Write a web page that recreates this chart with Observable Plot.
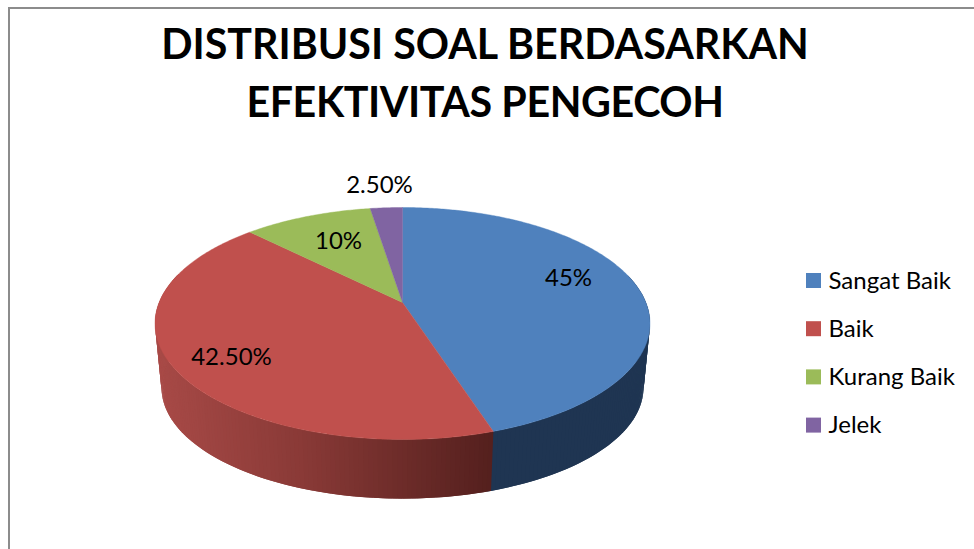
<!DOCTYPE html>
<html>
<head>
<meta charset="utf-8">
<script src="https://cdn.jsdelivr.net/npm/d3@7"></script>
<script src="https://cdn.jsdelivr.net/npm/@observablehq/plot@0.6"></script>
<style>
  html, body { margin: 0; padding: 0; background: #fff; overflow: hidden; }
  #frame { position: absolute; left: 8px; top: 7px; width: 980px; height: 560px;
           border: 2px solid #8c8c8c; box-sizing: border-box; }
  #title { position: absolute; left: 0; top: 14px; width: 970px; text-align: center;
           font: 700 41.2px/58px Lato, sans-serif; color: #000; }
  #title span { letter-spacing: -0.4px; }
  #chart { position: absolute; left: 0; top: 140px; }
  svg { display: block; overflow: visible; }
</style>
</head>
<body>
<div id="frame"></div>
<div id="title">DISTRIBUSI SOAL BERDASARKAN<br><span>EFEKTIVITAS PENGECOH</span></div>
<div id="chart"></div>
<script>
const categories = ["Sangat Baik", "Baik", "Kurang Baik", "Jelek"];
const values = [45, 42.5, 10, 2.5];
const valueLabels = ["45%", "42.50%", "10%", "2.50%"];
const topColors = ["#4f81bd", "#c0504d", "#9bbb59", "#8064a2"];

// Perspective model of the tilted disc
const cx = 402, k = 0.181;
const topDisc = {A: 243.4, B: 112.2, y0: 302};
const baseDisc = {A: 237, B: 107.4, y0: 367};
const project = (d, t) => {
  const w = 1 + k * Math.cos(t);
  return [cx + d.A * Math.sin(t) / w, d.y0 - d.B * Math.cos(t) / w];
};

const total = d3.sum(values);
let acc = 0;
const slices = values.map((v, i) => {
  const a0 = acc / total * 2 * Math.PI;
  acc += v;
  return {i, a0, a1: acc / total * 2 * Math.PI};
});

// Top faces
const topPts = [];
slices.forEach(s => {
  const centre = {slice: categories[s.i], x: cx, y: topDisc.y0, fill: topColors[s.i]};
  topPts.push(centre);
  const n = Math.max(4, Math.ceil((s.a1 - s.a0) * 90));
  for (let j = 0; j <= n; j++) {
    const [x, y] = project(topDisc, s.a0 + (s.a1 - s.a0) * j / n);
    topPts.push({slice: categories[s.i], x, y, fill: topColors[s.i]});
  }
  topPts.push(centre);
});

// Side wall: small overlapping quads, shaded by horizontal position
const redShade = d3.scaleLinear().domain([154, 300, 492]).range(["#a84a47", "#8a3a37", "#55201e"]);
const wallColor = (i, x) => i === 0 ? "#1f3552" : i === 1 ? redShade(x) : d3.color(topColors[i]).darker(1.3).formatHex();
const wallPts = [];
slices.forEach(s => {
  const n = Math.max(2, Math.ceil((s.a1 - s.a0) * 60));
  const step = (s.a1 - s.a0) / n;
  for (let j = 0; j < n; j++) {
    const t0 = s.a0 + step * j;
    const t1 = t0 + step * 2;
    if (Math.cos(t0 + step / 2) > 0.25) continue;
    const ring = [project(topDisc, t0), project(topDisc, t1), project(baseDisc, t1), project(baseDisc, t0), project(topDisc, t0)];
    const color = wallColor(s.i, ring[0][0]);
    ring.forEach(([x, y]) => wallPts.push({seg: `${s.i}-${j}`, x, y, color}));
  }
});

// Label layout
const labelLayout = [[568, 278], [231, 357], [338, 241], [379, 185]];
const labelRows = valueLabels.map((text, i) => ({text, x: labelLayout[i][0], y: labelLayout[i][1]}));

// Legend layout
const legendRows = categories.map((name, i) => ({name, i, yc: 280.5 + i * 48.2}));

const width = 974, chartTop = 140, height = 409;

const plot = Plot.plot({
  width, height,
  margin: 0,
  x: {domain: [0, width], range: [0, width], axis: null},
  y: {domain: [chartTop, chartTop + height], range: [0, height], axis: null},
  marks: [
    Plot.line(wallPts, {x: "x", y: "y", z: "seg", fill: "color", stroke: null, curve: "linear"}),
    Plot.line(topPts, {x: "x", y: "y", z: "slice", fill: "fill", stroke: "fill", strokeWidth: 0.4, curve: "linear"}),
    Plot.text(labelRows, {x: "x", y: "y", text: "text", fontSize: 24, fontFamily: "Lato, sans-serif", fill: "#000"}),
    Plot.rect(legendRows, {x1: () => 806, x2: () => 821, y1: d => d.yc - 7.5, y2: d => d.yc + 7.5, fill: d => topColors[d.i]}),
    Plot.text(legendRows, {x: () => 828, y: "yc", text: "name", textAnchor: "start", fontSize: 24, fontFamily: "Lato, sans-serif", fill: "#000"})
  ]
});
document.getElementById("chart").appendChild(plot);
</script>
</body>
</html>
